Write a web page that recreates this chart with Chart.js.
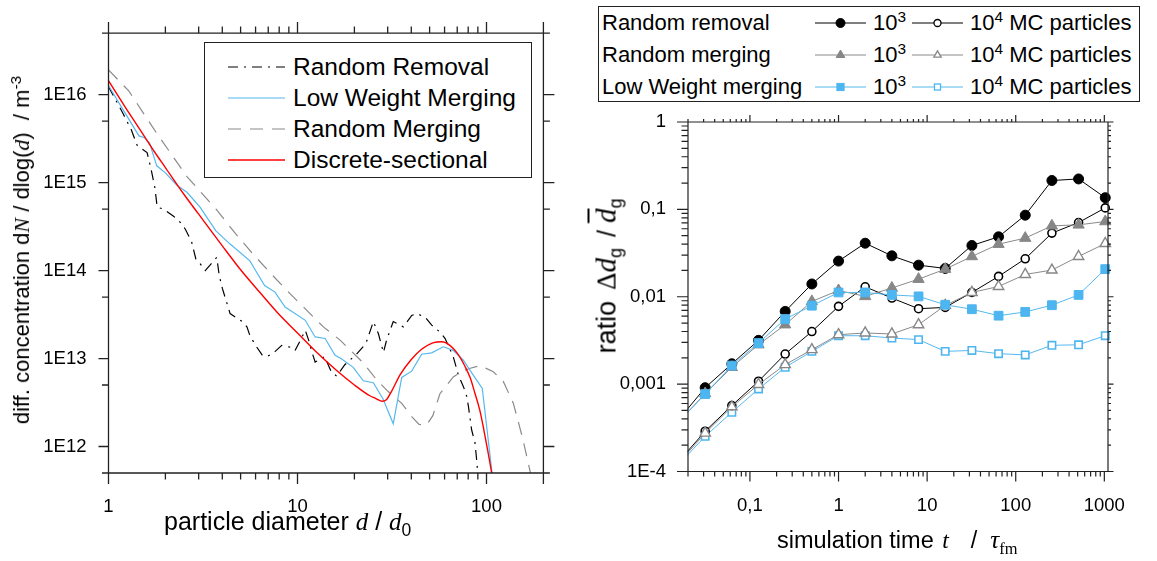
<!DOCTYPE html>
<html>
<head>
<meta charset="utf-8">
<title>Particle size distributions and width ratio</title>
<script src="https://cdn.jsdelivr.net/npm/chart.js@4.4.1/dist/chart.umd.min.js"></script>
<style>
  html, body { margin: 0; padding: 0; background: #fff; }
  #page { position: relative; width: 1157px; height: 561px; overflow: hidden;
          font-family: 'Liberation Sans', Arial, sans-serif; color: #000; }
  canvas { position: absolute; top: 0; }
  .abs { position: absolute; white-space: nowrap; line-height: 1; }
  .it { font-family: 'Liberation Serif', 'Times New Roman', serif; font-style: italic; }
  .rm { font-family: 'Liberation Serif', 'Times New Roman', serif; }
  sub, sup { font-size: 70%; line-height: 0; }
  .legend-box { position: absolute; border: 1.5px solid #222; background: #fff; box-sizing: border-box; }
  .row { position: absolute; height: 30px; display: flex; align-items: center; white-space: nowrap; }
  .row svg { display: block; }
</style>
</head>
<body>
<div id="page">
  <canvas id="sizeChart" width="560" height="561" style="left:0"></canvas>
  <canvas id="ratioChart" width="577" height="561" style="left:580px"></canvas>

  <div id="sizeLegend" class="legend-box" style="left:204px;top:42px;width:328px;height:136px;font-size:24.5px"></div>
  <div id="ratioLegend" class="legend-box" style="left:598px;top:6px;width:542px;height:96px;font-size:22px"></div>

  <div class="abs" style="left:164px;top:509px;font-size:25px">particle diameter <span class="it">d</span>&nbsp;/ <span class="it">d</span><sub>0</sub></div>
  <div class="abs" style="left:22px;top:250px;font-size:22px;transform:translate(-50%,-50%) rotate(-90deg)">diff. concentration d<span class="it">N</span> / dlog(<span class="it">d</span>)&nbsp; / m<sup>-3</sup></div>
  <div class="abs" style="left:777px;top:527px;font-size:23.5px">simulation time <span class="it" style="margin-left:2px">t</span><span style="margin-left:22px">/</span><span class="it" style="margin-left:13px;font-size:25px">τ</span><sub class="rm">fm</sub></div>
  <div class="abs" style="left:606px;top:276px;font-size:27px;transform:translate(-50%,-50%) rotate(-90deg)">ratio<span class="rm" style="margin-left:11px;font-size:27px">Δ</span><span class="it" style="font-size:29px">d</span><sub style="font-size:18px">g</sub><span style="margin-left:11px;font-size:25px">/</span><span class="it" style="margin-left:7px;font-size:29px;text-decoration:overline">d</span><sub style="font-size:18px">g</sub></div>
</div>

<script>
// --- size distribution: d/d0 against dN/dlog(d) in m^-3 ---
const sizeSeries = ['Random Removal', 'Low Weight Merging', 'Random Merging', 'Discrete-sectional'];

const diamRemoval = [1, 1.19, 1.32, 1.42, 1.6, 1.67, 1.76, 1.81, 1.95, 2.2, 2.35, 2.55, 2.75, 2.9, 3.05, 3.25, 3.5, 3.74,
  3.85, 4.0, 4.4, 5.1, 5.4, 5.6, 6.0, 6.5, 6.9, 7.6, 8.25, 9.1, 9.7, 10.2, 11.0, 11.5, 11.9, 12.4, 13.9, 15.1, 16.1,
  17.8, 20.5, 23.0, 25.2, 26.8, 28.5, 29.6, 32.1, 36.3, 40.2, 42.8, 47.3, 51.3, 56.7, 60.3, 66.7, 71, 75.5, 78.6,
  80.3, 83.4, 86.9, 88.7, 91];
const concRemoval = [1.23e16, 6.17e15, 3.98e15, 2.63e15, 2.19e15, 1.51e15, 8.71e14, 5.25e14, 5.01e14, 4.17e14, 3.72e14,
  2.95e14, 2.14e14, 1.35e14, 1.20e14, 1.0e14, 1.20e14, 1.41e14, 8.91e13, 6.31e13, 3.24e13, 2.63e13, 2.29e13, 1.82e13,
  1.41e13, 1.10e13, 1.05e13, 1.20e13, 1.41e13, 1.35e13, 1.23e13, 1.51e13, 2.09e13, 1.58e13, 1.20e13, 9.12e12, 1.05e13,
  7.08e12, 6.31e12, 8.51e12, 1.12e13, 1.48e13, 2.63e13, 1.91e13, 1.17e13, 1.62e13, 2.63e13, 2.29e13, 3.09e13, 3.24e13,
  2.95e13, 2.40e13, 2.0e13, 1.70e13, 1.05e13, 6.46e12, 4.79e12, 3.72e12, 2.82e12, 1.55e12, 1.10e12, 7.08e11, 3.55e11];

const diamLowWeight = [1, 1.2, 1.45, 1.55, 1.65, 1.8, 2.0, 2.3, 2.6, 3.05, 3.7, 4.4, 5.6, 6.0, 6.7, 7.6, 8.6, 11.0,
  12.4, 14.0, 15.8, 17, 19.7, 22.3, 25.2, 28.4, 32.1, 35.6, 40.2, 45.4, 51.3, 59.1, 66.7, 75.4, 85.1, 95, 111];
const concLowWeight = [1.27e16, 6.61e15, 3.39e15, 3.24e15, 2.82e15, 1.55e15, 1.29e15, 9.33e14, 7.76e14, 5.25e14,
  2.82e14, 2.0e14, 1.29e14, 1.0e14, 6.76e13, 5.69e13, 3.85e13, 2.72e13, 1.76e13, 1.69e13, 1.09e13, 1.0e13, 7.94e12,
  5.58e12, 5.31e12, 3.44e12, 1.81e12, 6.10e12, 7.19e12, 1.12e13, 1.16e13, 1.36e13, 1.24e13, 9.57e12, 6.47e12,
  4.57e12, 2.51e11];

const diamMerging = [1, 1.28, 1.8, 2.6, 3.7, 4.7, 5.8, 7.5, 9.1, 13.7, 16.8, 22.3, 26.2, 30, 35.6, 40.2, 44, 48, 52,
  56.7, 66.7, 75, 82, 92.5, 108.6, 122.7, 138.7, 155, 170, 180];
const concMerging = [1.91e16, 1.10e16, 3.63e15, 1.17e15, 5.01e14, 2.63e14, 1.55e14, 8.51e13, 5.50e13, 2.29e13,
  1.62e13, 8.91e12, 5.75e12, 4.27e12, 3.09e12, 2.19e12, 1.78e12, 1.74e12, 2.24e12, 3.98e12, 6.17e12, 7.24e12,
  7.76e12, 8.32e12, 7.08e12, 5.50e12, 3.09e12, 1.26e12, 5.25e11, 2.82e11];

const diamSectional = [1, 1.25, 1.5, 1.75, 2, 2.5, 3, 4, 5, 6.33, 8, 10, 12.5, 16, 20, 24, 26, 28, 29.5, 31.5, 35,
  40, 45, 52, 58, 64, 70, 77, 82, 87, 92, 96, 101, 106.5, 112];
const concSectional = [1.44e16, 6.76e15, 3.72e15, 2.24e15, 1.48e15, 7.41e14, 4.37e14, 1.91e14, 1.02e14, 5.62e13,
  3.16e13, 1.95e13, 1.20e13, 7.41e12, 5.01e12, 3.80e12, 3.51e12, 3.27e12, 3.39e12, 4.27e12, 6.61e12, 9.77e12,
  1.26e13, 1.51e13, 1.55e13, 1.41e13, 1.15e13, 8.13e12, 6.03e12, 3.98e12, 2.63e12, 1.70e12, 9.55e11, 5.01e11, 2.51e11];

const sizeTicks = [1, 10, 100];
const sizeTickLabels = ['1', '10', '100'];
const concTicks = [1e12, 1e13, 1e14, 1e15, 1e16];
const concTickLabels = ['1E12', '1E13', '1E14', '1E15', '1E16'];

// --- relative width of the distribution against t / tau_fm ---
const ratioRows = ['Random removal', 'Random merging', 'Low Weight merging'];
const simTime = [0.015625, 0.03125, 0.0625, 0.125, 0.25, 0.5, 1, 2, 4, 8, 16, 32, 64, 128, 256, 512, 1024];
const removal1e3 = [3.9e-4, 9.1e-4, 1.71e-3, 3.17e-3, 6.8e-3, 0.0140, 0.0256, 0.041, 0.0294, 0.023, 0.0211, 0.0386,
  0.0485, 0.0858, 0.214, 0.223, 0.136];
const removal1e4 = [1.3e-4, 2.89e-4, 5.68e-4, 1.08e-3, 2.21e-3, 4.0e-3, 7.76e-3, 0.013, 9.66e-3, 7.3e-3, 7.55e-3,
  0.0112, 0.0171, 0.0272, 0.0535, 0.0707, 0.104];
const merging1e3 = [3.7e-4, 7.8e-4, 1.56e-3, 2.83e-3, 4.79e-3, 8.85e-3, 0.0118, 0.0101, 0.0126, 0.0159, 0.0207,
  0.0289, 0.040, 0.0469, 0.0648, 0.0665, 0.0726];
const merging1e4 = [1.25e-4, 2.75e-4, 5.5e-4, 9.9e-4, 1.67e-3, 2.48e-3, 3.68e-3, 3.85e-3, 3.75e-3, 4.79e-3, 7.96e-3,
  0.0112, 0.0131, 0.018, 0.0202, 0.0289, 0.0407];
const lowWeight1e3 = [3.7e-4, 7.7e-4, 1.63e-3, 2.95e-3, 5.56e-3, 7.9e-3, 0.0112, 0.0112, 0.0105, 0.0101, 8.1e-3,
  7.2e-3, 6.07e-3, 6.7e-3, 8.0e-3, 0.0105, 0.0207];
const lowWeight1e4 = [1.2e-4, 2.53e-4, 4.76e-4, 8.8e-4, 1.56e-3, 2.37e-3, 3.58e-3, 3.58e-3, 3.37e-3, 3.23e-3,
  2.37e-3, 2.43e-3, 2.23e-3, 2.16e-3, 2.78e-3, 2.82e-3, 3.58e-3];

const timeTicks = [0.1, 1, 10, 100, 1000];
const timeTickLabels = ['0,1', '1', '10', '100', '1000'];
const ratioTicks = [1e-4, 1e-3, 1e-2, 0.1, 1];
const ratioTickLabels = ['1E-4', '0,001', '0,01', '0,1', '1'];

const FONT = "'Liberation Sans', Arial, sans-serif";
const tickFont = { family: FONT, size: 18.5 };
const BLUE = '#55b8ef';
const GREY = '#8a8a8a';

const pts = (xs, ys) => xs.map((x, i) => ({ x, y: ys[i] }));

// decade multiples between lo and hi, used for the minor tick marks
function decadeMarks(lo, hi, mults) {
  const out = [];
  for (let e = Math.floor(Math.log10(lo)); e <= Math.ceil(Math.log10(hi)); e++) {
    mults.forEach(m => {
      const v = m * Math.pow(10, e);
      if (v >= lo * 0.999 && v <= hi * 1.001) out.push(v);
    });
  }
  return out;
}

// box round the plot area with tick marks pointing outwards on all four sides
const framePlugin = {
  id: 'frame',
  afterDatasetsDraw(chart, args, o) {
    const { ctx, chartArea: a, scales: { x, y } } = chart;
    ctx.save();
    ctx.strokeStyle = o.color;
    ctx.lineWidth = o.lineWidth;
    ctx.beginPath();
    ctx.moveTo(a.left - o.overhang, a.top); ctx.lineTo(a.right + o.overhang, a.top);
    ctx.moveTo(a.left - o.overhang, a.bottom); ctx.lineTo(a.right + o.overhang, a.bottom);
    ctx.moveTo(a.left, a.top); ctx.lineTo(a.left, a.bottom);
    ctx.moveTo(a.right, a.top); ctx.lineTo(a.right, a.bottom);

    const xMarks = (vals, k) => vals.forEach(v => {
      const px = x.getPixelForValue(v);
      ctx.moveTo(px, a.bottom); ctx.lineTo(px, a.bottom + o.bottom[k]);
      ctx.moveTo(px, a.top); ctx.lineTo(px, a.top - o.top[k]);
    });
    const yMarks = (vals, k) => vals.forEach(v => {
      const py = y.getPixelForValue(v);
      ctx.moveTo(a.left, py); ctx.lineTo(a.left - o.left[k], py);
      ctx.moveTo(a.right, py); ctx.lineTo(a.right + o.right[k], py);
    });
    xMarks(o.xMajor, 0); xMarks(o.xMinor, 1);
    yMarks(o.yMajor, 0); yMarks(o.yMinor, 1);
    ctx.stroke();
    ctx.restore();
  }
};

function logAxis(min, max, ticks, labels, fit, padding) {
  return {
    type: 'logarithmic', min, max,
    grid: { display: false, drawTicks: false },
    border: { display: false },
    afterFit: fit,
    afterBuildTicks: s => { s.ticks = ticks.map(v => ({ value: v })); },
    ticks: { autoSkip: false, maxRotation: 0, padding, color: '#000', font: tickFont,
             callback: (v, i) => labels[i] }
  };
}

// left panel
const sizeStyles = [
  { color: '#000000', dash: [10, 6, 2, 6], width: 1.2 },
  { color: BLUE, dash: [], width: 1.2 },
  { color: GREY, dash: [13, 9], width: 1.2 },
  { color: '#ff0000', dash: [], width: 1.4 }
];
const sizeData = [pts(diamRemoval, concRemoval), pts(diamLowWeight, concLowWeight),
                  pts(diamMerging, concMerging), pts(diamSectional, concSectional)];
const sizeOrder = [2, 1, 3, 0];

new Chart(document.getElementById('sizeChart'), {
  type: 'line',
  data: {
    datasets: sizeSeries.map((label, i) => ({
      label, data: sizeData[i], order: sizeOrder[i],
      borderColor: sizeStyles[i].color, borderDash: sizeStyles[i].dash, borderWidth: sizeStyles[i].width,
      cubicInterpolationMode: i === 3 ? 'monotone' : 'default'
    }))
  },
  options: {
    responsive: false, animation: false,
    layout: { padding: { top: 31.5, right: 16.6, left: 0, bottom: 0 }, autoPadding: false },
    elements: { point: { radius: 0 }, line: { tension: 0 } },
    plugins: {
      legend: { display: false }, tooltip: { enabled: false },
      frame: { color: '#222', lineWidth: 1.3, overhang: 6,
               xMajor: sizeTicks.concat([200]), xMinor: decadeMarks(1, 200, [2, 3, 4, 5, 6, 7, 8, 9]),
               yMajor: concTicks, yMinor: decadeMarks(5e11, 5e16, [5]),
               bottom: [11, 6.5], top: [11, 6.5], left: [10, 6.5], right: [11, 6.5] }
    },
    scales: {
      x: logAxis(1, 200, sizeTicks, sizeTickLabels, s => { s.height = 88; }, 23),
      y: logAxis(5e11, 5e16, concTicks, concTickLabels, s => { s.width = 108.5; }, 22)
    }
  },
  plugins: [framePlugin]
});

// right panel
const ratioSeries = [
  { label: ratioRows[0] + ' 10³', data: removal1e3, line: '#000', style: 'circle', fill: '#000', edge: '#000', r: 5, bw: 1 },
  { label: ratioRows[0] + ' 10⁴', data: removal1e4, line: '#000', style: 'circle', fill: '#fff', edge: '#000', r: 4, bw: 1.6 },
  { label: ratioRows[1] + ' 10³', data: merging1e3, line: GREY, style: 'triangle', fill: '#878787', edge: '#878787', r: 6.5, bw: 1 },
  { label: ratioRows[1] + ' 10⁴', data: merging1e4, line: GREY, style: 'triangle', fill: '#fff', edge: '#878787', r: 6, bw: 1.4 },
  { label: ratioRows[2] + ' 10³', data: lowWeight1e3, line: BLUE, style: 'rect', fill: '#4db5f0', edge: '#4db5f0', r: 6.2, bw: 1 },
  { label: ratioRows[2] + ' 10⁴', data: lowWeight1e4, line: BLUE, style: 'rect', fill: '#fff', edge: '#4db5f0', r: 5.2, bw: 1.6 }
];
const ratioOrder = [3, 4, 2, 1, 0, 5];

new Chart(document.getElementById('ratioChart'), {
  type: 'line',
  data: {
    datasets: ratioSeries.map((s, i) => ({
      label: s.label, data: pts(simTime, s.data), order: ratioOrder[i],
      borderColor: s.line, borderWidth: 1,
      pointStyle: s.style, pointRadius: s.r, pointBackgroundColor: s.fill,
      pointBorderColor: s.edge, pointBorderWidth: s.bw,
      clip: { left: 0.5, top: 8, right: 8, bottom: 8 }
    }))
  },
  options: {
    responsive: false, animation: false,
    layout: { padding: { top: 122, right: 49, left: 0, bottom: 0 }, autoPadding: false },
    elements: { line: { tension: 0 } },
    plugins: {
      legend: { display: false }, tooltip: { enabled: false },
      frame: { color: '#222', lineWidth: 1.2, overhang: 0,
               xMajor: timeTicks, xMinor: decadeMarks(0.02, 1100, [2, 3, 4, 5, 6, 7, 8, 9]),
               yMajor: ratioTicks, yMinor: decadeMarks(1e-4, 1, [2, 3, 4, 5, 6, 7, 8, 9]),
               bottom: [10, 5], top: [7, 3], left: [11, 6.5], right: [5.5, 3] }
    },
    scales: {
      x: logAxis(0.02, 1100, timeTicks, timeTickLabels, s => { s.height = 89.5; }, 23),
      y: logAxis(1e-4, 1, ratioTicks, ratioTickLabels, s => { s.width = 108; }, 22)
    }
  },
  plugins: [framePlugin]
});

// legends
function lineSample(w, color, dash, width) {
  return `<svg width="${w}" height="20"><line x1="0" y1="10" x2="${w}" y2="10" stroke="${color}"
    stroke-width="${width}" stroke-dasharray="${dash.join(' ')}"/></svg>`;
}

function markerSample(w, s, r, bw) {
  const c = w / 2;
  let mark;
  if (s.style === 'circle') {
    mark = `<circle cx="${c}" cy="10" r="${r}" fill="${s.fill}" stroke="${s.edge}" stroke-width="${bw}"/>`;
  } else if (s.style === 'triangle') {
    const half = r * 0.87;
    mark = `<polygon points="${c},${10 - r} ${c - half},${10 + r / 2} ${c + half},${10 + r / 2}"
      fill="${s.fill}" stroke="${s.edge}" stroke-width="${bw}"/>`;
  } else {
    const a = r * 0.72;
    mark = `<rect x="${c - a}" y="${10 - a}" width="${2 * a}" height="${2 * a}" fill="${s.fill}"
      stroke="${s.edge}" stroke-width="${bw}"/>`;
  }
  return `<svg width="${w}" height="20"><line x1="0" y1="10" x2="${w}" y2="10" stroke="${s.line}"
    stroke-width="1"/>${mark}</svg>`;
}

const sizeLegend = document.getElementById('sizeLegend');
const sizeRowY = [24, 55, 86, 117];
sizeSeries.forEach((label, i) => {
  const st = sizeStyles[i];
  sizeLegend.insertAdjacentHTML('beforeend',
    `<div class="row" style="left:23px;top:${sizeRowY[i] - 15}px">${lineSample(57, st.color, st.dash, st.width)}
     <span style="margin-left:8px">${label}</span></div>`);
});

const ratioLegend = document.getElementById('ratioLegend');
const ratioRowY = [16, 48, 80];
ratioRows.forEach((label, i) => {
  const a = ratioSeries[2 * i], b = ratioSeries[2 * i + 1];
  const y = ratioRowY[i] - 15;
  ratioLegend.insertAdjacentHTML('beforeend',
    `<div class="row" style="left:3px;top:${y}px">${label}</div>
     <div class="row" style="left:216px;top:${y}px">${markerSample(51, a, a.style === 'circle' ? 4.5 : 5, a.bw)}
       <span style="margin-left:7px">10<sup>3</sup></span></div>
     <div class="row" style="left:313px;top:${y}px">${markerSample(51, b, b.style === 'circle' ? 3.5 : 4.2, 1.3)}
       <span style="margin-left:7px">10<sup>4</sup> MC particles</span></div>`);
});
</script>
</body>
</html>
